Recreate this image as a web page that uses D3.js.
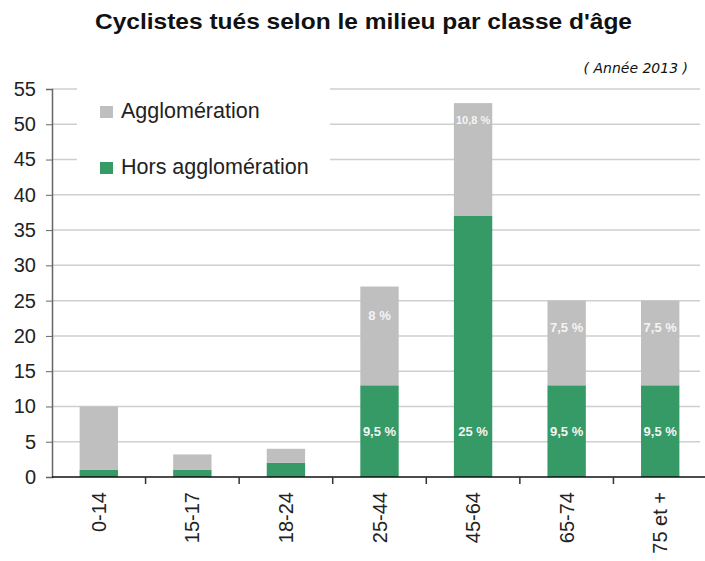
<!DOCTYPE html>
<html>
<head>
<meta charset="utf-8">
<script src="https://cdn.jsdelivr.net/npm/d3@7/dist/d3.min.js"></script>
<style>
  html, body { margin: 0; padding: 0; background: #fff; }
  svg { display: block; }
</style>
</head>
<body>
<svg id="chart" width="705" height="561"></svg>
<script>
// ---- Data ----
const categories = ["0-14", "15-17", "18-24", "25-44", "45-64", "65-74", "75 et +"];
const horsAgglo = [1, 1, 2, 13, 37, 13, 13];
const agglo = [9, 2.2, 2, 14, 16, 12, 12];
const horsLabels = ["", "", "", "9,5 %", "25 %", "9,5 %", "9,5 %"];
const aggloLabels = ["", "", "", "8 %", "10,8 %", "7,5 %", "7,5 %"];
const horsLabelAt = [null, null, null, 6.5, 6.5, 6.5, 6.5];
const aggloLabelAt = [null, null, null, 23, 50.8, 21.2, 21.2];
const yTicks = [0, 5, 10, 15, 20, 25, 30, 35, 40, 45, 50, 55];
const seriesNames = ["Agglomération", "Hors agglomération"];
const title = "Cyclistes tués selon le milieu par classe d'âge";
const subtitle = "( Année 2013 )";

(function () {
// ---- Layout ----
const colors = { agglo: "#bfbfbf", hors: "#359a65" };
const svg = d3.select("#chart");
const mLeft = 52, mRight = 707, mTop = 89, mBottom = 477;

const x = d3.scaleBand().domain(categories).range([mLeft, mRight])
  .paddingInner(0.59).paddingOuter(0.295);
const y = d3.scaleLinear().domain([0, 55]).range([mBottom, mTop]);

// Title
svg.append("text").attr("x", 95).attr("y", 28.5)
  .attr("textLength", 537).attr("lengthAdjust", "spacingAndGlyphs")
  .style("font-family", "'Liberation Sans', Arial, sans-serif")
  .style("font-weight", "bold").style("font-size", "22px").style("fill", "#111")
  .text(title);
svg.append("text").attr("x", 688).attr("y", 73)
  .attr("text-anchor", "end")
  .style("font-family", "'DejaVu Sans', sans-serif")
  .style("font-style", "italic").style("font-size", "14px").style("fill", "#111")
  .text(subtitle);

// Gridlines
svg.append("g").selectAll("line").data(yTicks.filter(d => d > 0)).join("line")
  .attr("x1", mLeft).attr("x2", 700)
  .attr("y1", d => y(d)).attr("y2", d => y(d))
  .attr("stroke", "#cfcfcf").attr("stroke-width", 1.5);

// Legend background (covers gridlines)
svg.append("rect").attr("x", 77).attr("y", 84).attr("width", 253).attr("height", 104)
  .attr("fill", "#fff");

// Bars
const step = x.step();
const bars = svg.append("g");
categories.forEach((c, i) => {
  const bx = x(c), bw = x.bandwidth();
  bars.append("rect").attr("x", bx).attr("width", bw)
    .attr("y", y(horsAgglo[i])).attr("height", y(0) - y(horsAgglo[i]))
    .attr("fill", colors.hors);
  bars.append("rect").attr("x", bx).attr("width", bw)
    .attr("y", y(horsAgglo[i] + agglo[i]))
    .attr("height", y(horsAgglo[i]) - y(horsAgglo[i] + agglo[i]))
    .attr("fill", colors.agglo);
});

// Bar labels
const lblFont = "'Liberation Sans Narrow', 'Arial Narrow', 'Liberation Sans', sans-serif";
categories.forEach((c, i) => {
  const cx = x(c) + x.bandwidth() / 2;
  if (horsLabels[i]) {
    svg.append("text").attr("x", cx).attr("y", y(horsLabelAt[i]) + 5)
      .attr("text-anchor", "middle")
      .style("font-family", lblFont).style("font-weight", "bold")
      .style("font-size", "13px").style("fill", "#f4f4f4")
      .text(horsLabels[i]);
  }
  if (aggloLabels[i]) {
    svg.append("text").attr("x", cx).attr("y", y(aggloLabelAt[i]) + 5)
      .attr("text-anchor", "middle")
      .style("font-family", lblFont).style("font-weight", "bold")
      .style("font-size", i === 4 ? "11px" : "13px").style("fill", "#f4f4f4")
      .text(aggloLabels[i]);
  }
});

// Y axis
const yAxis = svg.append("g").attr("transform", `translate(${mLeft},0)`)
  .call(d3.axisLeft(y).tickValues(yTicks).tickSize(6).tickPadding(10));
yAxis.select(".domain").attr("stroke", "#666").attr("stroke-width", 1.5);
yAxis.selectAll(".tick line").attr("stroke", "#666");
yAxis.selectAll(".tick text")
  .style("font-family", "'Liberation Sans', Arial, sans-serif")
  .style("font-size", "20px").style("fill", "#222");

// X axis line
svg.append("line").attr("x1", mLeft).attr("x2", 705)
  .attr("y1", mBottom).attr("y2", mBottom)
  .attr("stroke", "#111").attr("stroke-width", 1.5);
// X tick marks at category boundaries
svg.append("g").selectAll("line").data(categories.slice(1)).join("line")
  .attr("x1", d => x(d) - step * x.paddingInner() / 2)
  .attr("x2", d => x(d) - step * x.paddingInner() / 2)
  .attr("y1", mBottom).attr("y2", mBottom + 7)
  .attr("stroke", "#333").attr("stroke-width", 1.5);

// X labels (rotated)
svg.append("g").selectAll("text").data(categories).join("text")
  .attr("transform", d => `translate(${x(d) + x.bandwidth() / 2 + 7},492) rotate(-90)`)
  .attr("text-anchor", "end")
  .style("font-family", "'Liberation Sans', Arial, sans-serif")
  .style("font-size", "20px").style("fill", "#222")
  .text(d => d);

// Legend
const legend = svg.append("g");
const legColors = [colors.agglo, colors.hors];
const legY = [118, 174];
seriesNames.forEach((n, i) => {
  legend.append("rect").attr("x", 100).attr("y", legY[i] - 12)
    .attr("width", 13).attr("height", 12).attr("fill", legColors[i]);
  legend.append("text").attr("x", 121).attr("y", legY[i])
    .style("font-family", "'Liberation Sans', Arial, sans-serif")
    .style("font-size", "21.5px").style("fill", "#222")
    .text(n);
});
})();
</script>
</body>
</html>
